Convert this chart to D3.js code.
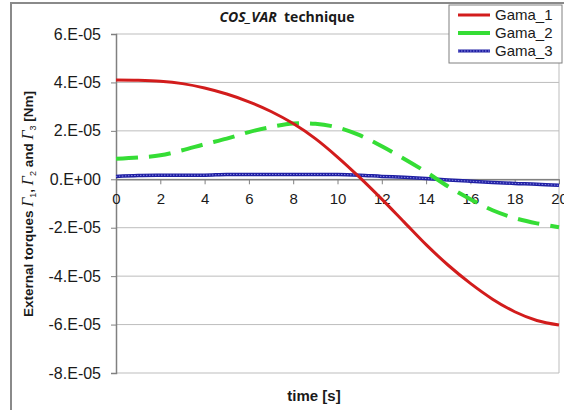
<!DOCTYPE html>
<html>
<head>
<meta charset="utf-8">
<script src="https://cdn.jsdelivr.net/npm/d3@7"></script>
<style>
  body { margin: 0; background: #fff; }
  text { font-family: "Liberation Sans", Arial, sans-serif; fill: #1a1a1a; }
</style>
</head>
<body>
<div id="chart"></div>
<script>
// time axis, seconds
var times = [0,1,2,3,4,5,6,7,8,9,10,11,12,13,14,15,16,17,18,19,20];

// torques, in units of 1E-5 Nm
var gama1 = [4.1,4.09,4.05,3.95,3.77,3.52,3.2,2.8,2.3,1.68,0.92,0.08,-0.82,-1.76,-2.7,-3.55,-4.3,-4.95,-5.47,-5.83,-6.02];
var gama2 = [0.85,0.9,0.99,1.2,1.45,1.68,1.95,2.16,2.3,2.29,2.14,1.82,1.36,0.85,0.3,-0.3,-0.82,-1.28,-1.6,-1.82,-1.98];
var gama3 = [0.12,0.16,0.17,0.17,0.17,0.2,0.2,0.2,0.2,0.2,0.2,0.17,0.12,0.08,0.03,-0.03,-0.08,-0.13,-0.17,-0.2,-0.25];

var yTicks = [6,4,2,0,-2,-4,-6,-8];
var yTickLabels = ["6.E-05","4.E-05","2.E-05","0.E+00","-2.E-05","-4.E-05","-6.E-05","-8.E-05"];
var xTicks = [0,2,4,6,8,10,12,14,16,18,20];

var series = [
  {name: "Gama_1", values: gama1},
  {name: "Gama_2", values: gama2},
  {name: "Gama_3", values: gama3}
];

var width = 564, height = 410;

var svg = d3.select("#chart").append("svg")
  .attr("width", width)
  .attr("height", height);

// outer chart frame
svg.append("rect")
  .attr("x", 11).attr("y", 3)
  .attr("width", 620).attr("height", 500)
  .attr("fill", "#fff")
  .attr("stroke", "#8a8a8a")
  .attr("stroke-width", 2);

var x = d3.scaleLinear().domain([0, 20]).range([116, 559]);
var y = d3.scaleLinear().domain([-8, 6]).range([373, 34]);

// horizontal gridlines
svg.append("g")
  .selectAll("line")
  .data(yTicks)
  .enter().append("line")
  .attr("x1", x(0)).attr("x2", x(20))
  .attr("y1", function(d) { return y(d); })
  .attr("y2", function(d) { return y(d); })
  .attr("stroke", "#bdbdbd")
  .attr("stroke-width", 1);

// right edge of plot area
svg.append("line")
  .attr("x1", x(20)).attr("x2", x(20))
  .attr("y1", y(6)).attr("y2", y(-8))
  .attr("stroke", "#bdbdbd");

// y axis
var yAxis = svg.append("g")
  .attr("transform", "translate(" + x(0) + ",0)")
  .call(d3.axisLeft(y).tickValues(yTicks).tickSize(5).tickPadding(10)
    .tickFormat(function(d, i) { return yTickLabels[i]; }));
yAxis.select(".domain").attr("stroke", "#808080").attr("stroke-width", 1.5);
yAxis.selectAll(".tick line").attr("stroke", "#808080");
yAxis.selectAll("text")
  .style("font-family", '"Liberation Sans", Arial, sans-serif')
  .style("font-size", "16px")
  .attr("fill", "#1a1a1a");

// x axis across zero
var xAxis = svg.append("g")
  .attr("transform", "translate(0," + y(0) + ")")
  .call(d3.axisBottom(x).tickValues(xTicks).tickSize(5).tickPadding(9).tickSizeOuter(0));
xAxis.select(".domain").attr("stroke", "#808080").attr("stroke-width", 1.5);
xAxis.selectAll(".tick line").attr("stroke", "#808080");
xAxis.selectAll("text")
  .style("font-family", '"Liberation Sans", Arial, sans-serif')
  .style("font-size", "15px")
  .attr("fill", "#1a1a1a");

var line = d3.line()
  .x(function(d, i) { return x(times[i]); })
  .y(function(d) { return y(d); })
  .curve(d3.curveCatmullRom);

var plot = svg.append("g");

plot.append("path")
  .attr("d", line(gama3))
  .attr("fill", "none")
  .attr("stroke", "#1f1fa3")
  .attr("stroke-width", 3.5);
plot.append("path")
  .attr("d", line(gama3))
  .attr("fill", "none")
  .attr("stroke", "#8c8ce6")
  .attr("stroke-width", 1)
  .attr("stroke-dasharray", "1.5,1.5");

plot.append("path")
  .attr("d", line(gama2))
  .attr("fill", "none")
  .attr("stroke", "#35dd35")
  .attr("stroke-width", 4)
  .attr("stroke-dasharray", "22,11");

plot.append("path")
  .attr("d", line(gama1))
  .attr("fill", "none")
  .attr("stroke", "#d21c1c")
  .attr("stroke-width", 3);

// title
var title = svg.append("text")
  .attr("x", 287).attr("y", 22)
  .attr("text-anchor", "middle")
  .style("font-family", '"Open Sans", "Noto Sans", sans-serif')
  .style("font-size", "14px")
  .style("font-weight", "bold");
title.append("tspan").style("font-style", "italic").text("COS_VAR");
title.append("tspan").text("\u00a0 technique");

// axis titles
svg.append("text")
  .attr("x", 314).attr("y", 401)
  .attr("text-anchor", "middle")
  .style("font-size", "15px")
  .style("font-weight", "bold")
  .text("time [s]");

var ylab = svg.append("text")
  .attr("transform", "translate(33,204) rotate(-90)")
  .attr("text-anchor", "middle")
  .style("font-size", "13.5px")
  .style("font-weight", "bold");
ylab.append("tspan").text("External torques  ");
[["1", ", "], ["2", " and "], ["3", " [Nm]"]].forEach(function(p) {
  ylab.append("tspan")
    .style("font-family", '"Liberation Serif", "Times New Roman", serif')
    .style("font-style", "italic")
    .style("font-weight", "normal")
    .style("font-size", "16px")
    .text("\u0393");
  ylab.append("tspan").attr("dy", 3)
    .style("font-size", "9px").style("font-weight", "normal")
    .text(p[0]);
  ylab.append("tspan").attr("dy", -3).text(p[1]);
});

// legend
var legend = svg.append("g");
legend.append("rect")
  .attr("x", 449).attr("y", 5)
  .attr("width", 113).attr("height", 58)
  .attr("fill", "#fff")
  .attr("stroke", "#808080");

var legendStyles = [
  {stroke: "#d21c1c", w: 3},
  {stroke: "#35dd35", w: 4},
  {stroke: "#1f1fa3", w: 3}
];
var rows = legend.selectAll("g.row")
  .data(series)
  .enter().append("g")
  .attr("class", "row")
  .attr("transform", function(d, i) { return "translate(0," + (15 + i * 18) + ")"; });
rows.append("line")
  .attr("x1", 458).attr("x2", 490)
  .attr("stroke", function(d, i) { return legendStyles[i].stroke; })
  .attr("stroke-width", function(d, i) { return legendStyles[i].w; });
rows.filter(function(d, i) { return i == 2; }).append("line")
  .attr("x1", 458).attr("x2", 490)
  .attr("stroke", "#8c8ce6")
  .attr("stroke-dasharray", "1.5,1.5");
rows.append("text")
  .attr("x", 495).attr("dy", "0.35em")
  .style("font-size", "15px")
  .text(function(d) { return d.name; });
</script>
</body>
</html>
